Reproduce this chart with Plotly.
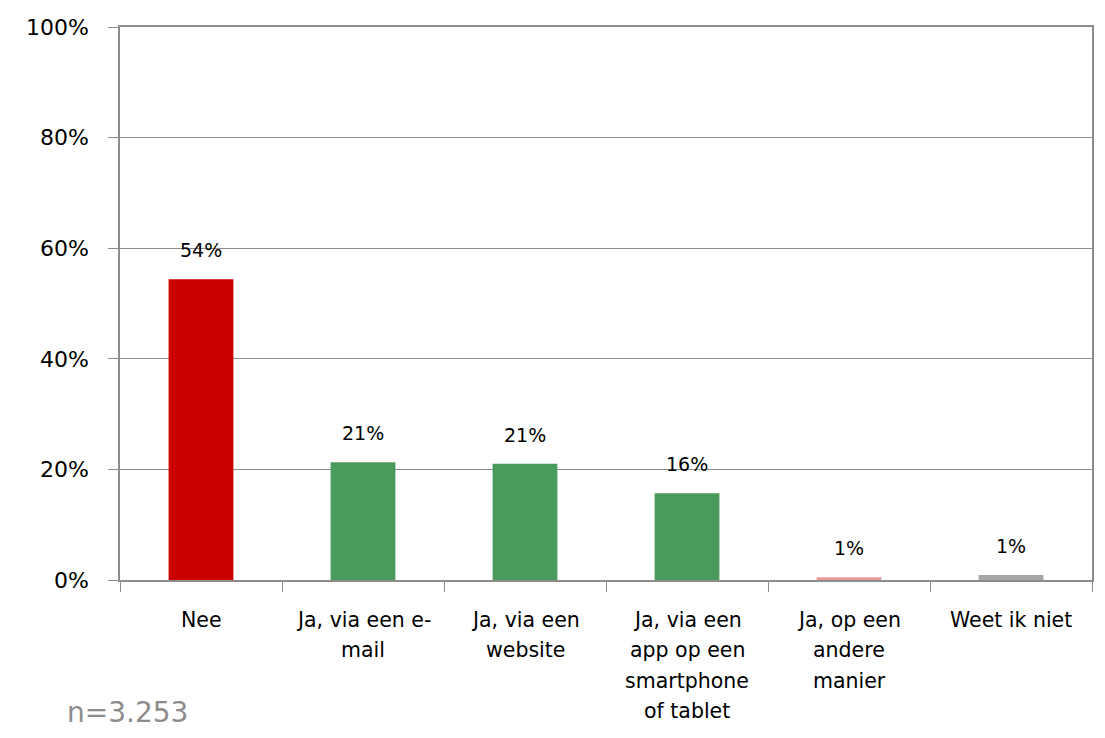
import plotly.graph_objects as go

# answer categories (tick labels, one line per list item)
categories = ["Nee", "Ja, via een e-mail", "Ja, via een website",
              "Ja, via een app op een smartphone of tablet",
              "Ja, op een andere manier", "Weet ik niet"]
tick_lines = [
    ["Nee"],
    ["Ja, via een e-", "mail"],
    ["Ja, via een", "website"],
    ["Ja, via een", "app op een", "smartphone", "of tablet"],
    ["Ja, op een", "andere", "manier"],
    ["Weet ik niet"],
]
shares = [0.544, 0.213, 0.210, 0.157, 0.005, 0.009]
labels = ["54%", "21%", "21%", "16%", "1%", "1%"]
bar_colors = ["#CC0000", "#499A5B", "#499A5B", "#499A5B", "#E89A9A", "#A6A6A6"]

font = "DejaVu Sans"

fig = go.Figure(
    go.Bar(
        x=categories,
        y=shares,
        marker=dict(color=bar_colors, line=dict(width=0)),
        width=0.4,
        hoverinfo="skip",
    )
)

annotations = []
# value labels above the bars
for cat, val, lab in zip(categories, shares, labels):
    annotations.append(dict(
        x=cat, y=val, xref="x", yref="y", text=lab, showarrow=False,
        yanchor="bottom", yshift=16, font=dict(family=font, size=19, color="black"),
    ))
# category labels, drawn line by line to get the wider line spacing
for cat, lines in zip(categories, tick_lines):
    for i, line in enumerate(lines):
        annotations.append(dict(
            x=cat, y=0, xref="x", yref="paper", text=line, showarrow=False,
            yanchor="top", yshift=-25.5 - 30.5 * i,
            font=dict(family=font, size=20.5, color="black"),
        ))
annotations.append(dict(
    x=-0.057, y=0, xref="paper", yref="paper", text="n=3.253", showarrow=False,
    xanchor="left", yanchor="top", yshift=-114,
    font=dict(family=font, size=28, color="#8C8C8C"),
))

fig.update_layout(
    width=1089,
    height=722,
    margin=dict(l=112, r=3, t=19, b=150),
    plot_bgcolor="white",
    paper_bgcolor="white",
    showlegend=False,
    annotations=annotations,
    xaxis=dict(
        showticklabels=False,
        ticks="outside", ticklen=10, tickcolor="#8C8C8C",
        tickson="boundaries",
        showline=True, linecolor="#8C8C8C", linewidth=1.5, mirror=True,
        showgrid=False,
    ),
    yaxis=dict(
        range=[0, 1],
        tickvals=[0, 0.2, 0.4, 0.6, 0.8, 1.0],
        tickformat=".0%",
        ticks="outside", ticklen=10, tickcolor="#8C8C8C",
        tickfont=dict(family=font, size=22, color="black"),
        showline=True, linecolor="#8C8C8C", linewidth=1.5, mirror=True,
        showgrid=True, gridcolor="#8C8C8C", gridwidth=1.2,
        zeroline=False,
        ticklabelstandoff=15,
    ),
)

fig.write_html("out.html")
